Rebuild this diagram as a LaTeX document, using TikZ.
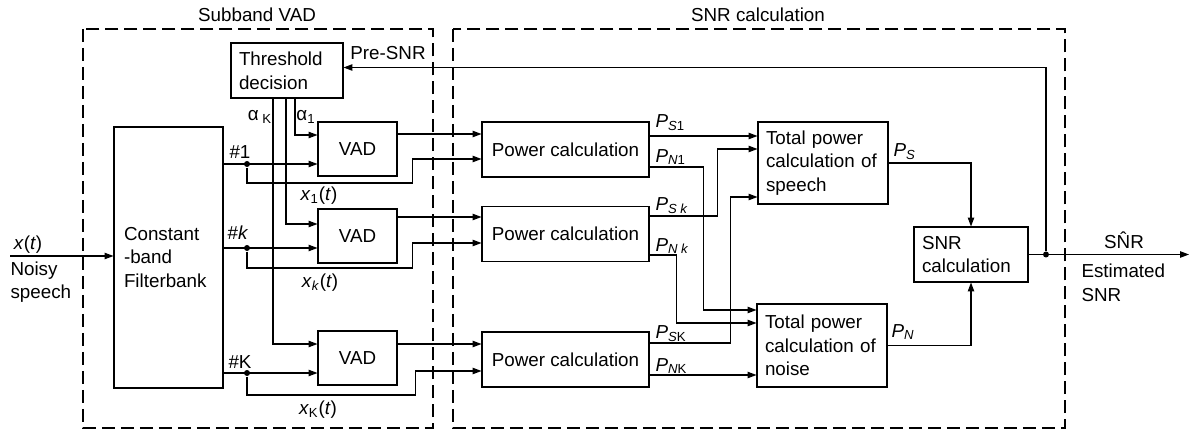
\documentclass[tikz,border=0pt]{standalone}
\usepackage{fontspec}
\setmainfont{Liberation Sans}
\usetikzlibrary{arrows.meta, positioning, calc}
\tikzset{
  blk/.style={draw, inner xsep=0.16cm, inner ysep=0pt, align=left},
  region/.style={draw, dash pattern=on 0.26cm off 0.12cm},
  lbl/.style={inner sep=0pt},
  dot/.style={circle, fill, inner sep=0pt, minimum size=0.12cm}
}
\newcommand{\pwr}[2]{\textit{P}\textsubscript{#1#2}}

\begin{document}
\begin{tikzpicture}[x=0.02cm, y=-0.02cm, line width=0.6pt,
    font=\fontsize{10.7}{13.5}\selectfont,
    >={Triangle[length=5pt,width=3.6pt]}]
  \useasboundingbox (0,0) rectangle (1191,429);

  % Dashed regions
  \draw[region] (83,29) rectangle (433,428);
  \draw[region] (453,29) rectangle (1065,428);
  \node[lbl] (tvad) at (257,15) {Subband VAD};
  \node[lbl] (tsnr) at (758,15) {SNR calculation};

  % --- Subband VAD ---
  \node[blk, text width=1.92cm, minimum height=1.1cm] (thr) at (287,70.5) {Threshold\\decision};
  \node[blk, inner xsep=0.2cm, text width=1.78cm, minimum height=5.22cm] (fb) at (168.5,257.5) {Constant\\-band\\Filterbank};
  \node[blk, align=center, minimum width=1.58cm, minimum height=1.08cm] (vad1) at (357.5,149) {VAD};
  \node[blk, align=center, minimum width=1.58cm, minimum height=1.08cm] (vadk) at (357.5,236) {VAD};
  \node[blk, align=center, minimum width=1.58cm, minimum height=1.08cm] (vadK) at (357.5,358) {VAD};

  % Input
  \coordinate (in) at (10,256);
  \draw[->] (in) -- (in -| fb.west);
  \node[lbl] (xin) at (28,245) {\textit{x}(\textit{t})};
  \node[lbl, align=left, anchor=west] (noisy) at (10,282) {Noisy\\speech};

  % Channels
  \node[dot] (d1) at (247,164) {};
  \node[dot] (dk) at (247,248) {};
  \node[dot] (dK) at (247,373) {};
  \draw[->] (d1 -| fb.east) -- (d1 -| vad1.west);
  \draw[->] (dk -| fb.east) -- (dk -| vadk.west);
  \draw[->] (dK -| fb.east) -- (dK -| vadK.west);
  \node[lbl] (c1) at (240,152) {\#1};
  \node[lbl] (ck) at (238,233) {\#\textit{k}};
  \node[lbl] (cK) at (240,362) {\#K};

  % Thresholds
  \draw[->] ($(thr.south)+(8,0)$) |- ($(vad1.west)+(0,-14)$);
  \draw[->] ($(thr.south)+(-1,0)$) |- ($(vadk.west)+(0,-12)$);
  \draw[->] ($(thr.south)+(-14,0)$) |- ($(vadK.west)+(0,-14)$);
  \node[lbl] (aK) at (260,117) {α\textsubscript{ K}};
  \node[lbl] (a1) at (306,117) {α\textsubscript{1}};

  % --- SNR calculation ---
  \node[blk, align=center, minimum width=3.34cm, minimum height=1.1cm] (pc1) at (565.5,149.5) {Power calculation};
  \node[blk, align=center, minimum width=3.34cm, minimum height=1.1cm] (pck) at (565.5,234) {Power calculation};
  \node[blk, align=center, minimum width=3.34cm, minimum height=1.1cm] (pcK) at (565.5,359.5) {Power calculation};
  \node[blk, text width=2.28cm, minimum height=1.64cm] (tps) at (823,163) {Total power\\calculation of\\speech};
  \node[blk, text width=2.28cm, minimum height=1.66cm] (tpn) at (822,345.5) {Total power\\calculation of\\noise};
  \node[blk, text width=1.96cm, minimum height=1.1cm] (snr) at (971,254.5) {SNR\\calculation};

  % VAD to power calculation
  \draw[->] ($(vad1.east)+(0,-15)$) coordinate (o1) -- (o1 -| pc1.west);
  \draw[->] ($(vadk.east)+(0,-19)$) coordinate (ok) -- (ok -| pck.west);
  \draw[->] ($(vadK.east)+(0,-14)$) coordinate (oK) -- (oK -| pcK.west);
  \draw[->] (d1) |- ($(pc1.west)+(-69,33.5)$) |- ($(pc1.west)+(0,9.5)$);
  \draw[->] (dk) |- ($(pck.west)+(-69,34)$) |- ($(pck.west)+(0,9)$);
  \draw[->] (dK) |- ($(pcK.west)+(-66,35.5)$) |- ($(pcK.west)+(0,11.5)$);
  \node[lbl] (x1) at (319,196) {\textit{x}\textsubscript{1}(\textit{t})};
  \node[lbl] (xk) at (320,283) {\textit{x}\textsubscript{\textit{k}}(\textit{t})};
  \node[lbl] (xK) at (318,410) {\textit{x}\textsubscript{K}(\textit{t})};

  % Power to totals
  \draw[->] ($(pc1.east)+(0,-13.5)$) -- ($(tps.west)+(0,-27)$);
  \draw[->] ($(pc1.east)+(0,17.5)$) -| ($(tpn.west)+(-53,-35.5)$) -- ($(tpn.west)+(0,-35.5)$);
  \draw[->] ($(pck.east)+(0,-18)$) -| ($(tps.west)+(-40,-14)$) -- ($(tps.west)+(0,-14)$);
  \draw[->] ($(pck.east)+(0,21)$) -| ($(tpn.west)+(-80,-22.5)$) -- ($(tpn.west)+(0,-22.5)$);
  \draw[->] ($(pcK.east)+(0,-16.5)$) -| ($(tps.west)+(-27,34)$) -- ($(tps.west)+(0,34)$);
  \draw[->] ($(pcK.east)+(0,15.5)$) -- ($(tpn.west)+(0,29.5)$);
  \node[lbl, anchor=west] (ps1) at (655,123) {\pwr{\textit{S}}{1}};
  \node[lbl, anchor=west] (pn1) at (655,157) {\pwr{\textit{N}}{1}};
  \node[lbl, anchor=west] (psk) at (655,206) {\pwr{\textit{S}}{ \textit{k}}};
  \node[lbl, anchor=west] (pnk) at (655,246) {\pwr{\textit{N}}{ \textit{k}}};
  \node[lbl, anchor=west] (psK) at (655,334) {\pwr{\textit{S}}{K}};
  \node[lbl, anchor=west] (pnK) at (655,366) {\pwr{\textit{N}}{K}};

  % Totals to SNR
  \draw[->] (tps.east) -| (snr.north);
  \draw[->] (tpn.east) -| (snr.south);
  \node[lbl, anchor=west] (ps) at (893,152) {\pwr{\textit{S}}{}};
  \node[lbl, anchor=west] (pn) at (891,332) {\pwr{\textit{N}}{}};

  % Output and feedback
  \node[dot] (fbk) at (1046,254.5) {};
  \coordinate (out) at (1189,254.5);
  \draw[->] (snr.east) -- (out);
  \draw[->] (fbk) |- ($(thr.east)+(0,-3)$);
  \node[lbl] (pre) at (388,53) {Pre-SNR};
  \node[lbl] (est) at (1124,240) {S\^{N}R};
  \node[lbl, align=left, anchor=west] (estl) at (1081,283) {Estimated\\SNR};
\end{tikzpicture}
\end{document}
